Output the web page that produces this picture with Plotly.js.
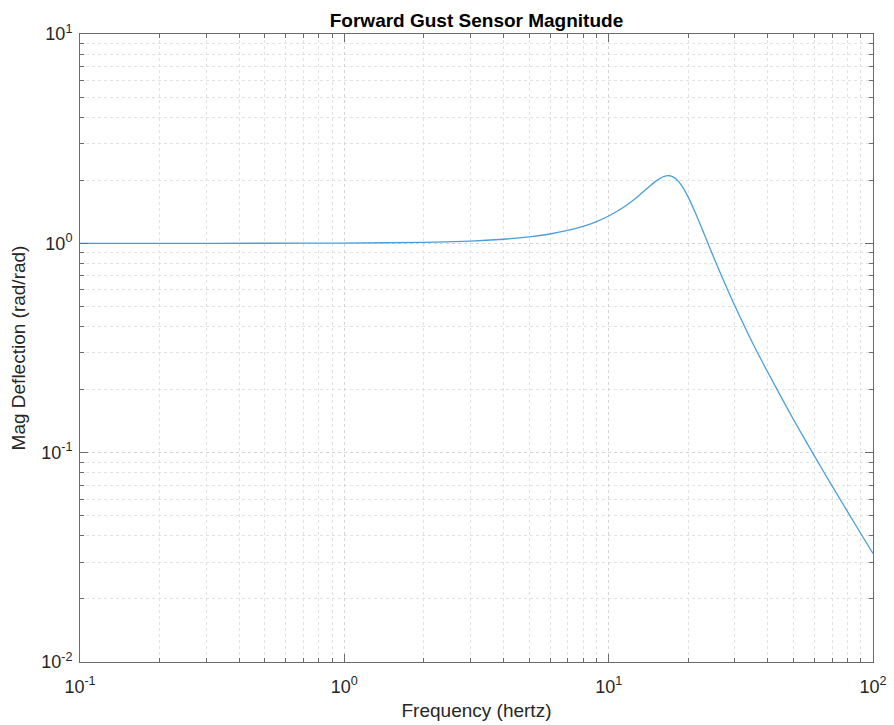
<!DOCTYPE html>
<html>
<head>
<meta charset="utf-8">
<script src="https://cdn.plot.ly/plotly-3.0.1.min.js"></script>
<style>html,body{margin:0;padding:0;background:#fff;}#chart{width:894px;height:725px;}</style>
</head>
<body>
<div id="chart"></div>
<script>
// Frequency (hertz) and magnitude (rad/rad)
var freq = [0.1, 0.2, 0.5, 1, 2, 3, 4, 5, 6, 7, 8, 9, 10, 11, 12, 13, 14, 15, 16, 16.5, 17, 17.5, 18, 19, 20, 21, 22, 23, 24, 25, 27, 30, 35, 40, 50, 60, 70, 80, 90, 100];
var mag  = [1.000, 1.000, 1.001, 1.003, 1.011, 1.025, 1.046, 1.073, 1.108, 1.152, 1.205, 1.271, 1.351, 1.446, 1.560, 1.690, 1.833, 1.971, 2.075, 2.101, 2.103, 2.078, 2.029, 1.868, 1.663, 1.455, 1.267, 1.104, 0.968, 0.854, 0.679, 0.503, 0.335, 0.242, 0.144, 0.0965, 0.0694, 0.0524, 0.0410, 0.0330];

var xTickVals = [0.1, 1, 10, 100];
var xTickText = ['10<sup>-1</sup>', '10<sup>0</sup>', '10<sup>1</sup>', '10<sup>2</sup>'];
var yTickVals = [0.01, 0.1, 1, 10];
var yTickText = ['10<sup>-2</sup>', '10<sup>-1</sup>', '10<sup>0</sup>', '10<sup>1</sup>'];

var titleText = 'Forward Gust Sensor Magnitude';
var xTitle = 'Frequency (hertz)';
var yTitle = 'Mag Deflection (rad/rad)';

var FONT = 'Liberation Sans, Arial, Helvetica, sans-serif';
var AXC = '#6b6b6b';

var trace = {
  x: freq, y: mag, type: 'scatter', mode: 'lines',
  line: {color: '#4a9fdb', width: 1.3, shape: 'spline', smoothing: 0.6},
  hoverinfo: 'x+y'
};

function axisCommon() {
  return {
    type: 'log',
    showline: true, linecolor: AXC, linewidth: 1, mirror: 'ticks',
    ticks: 'inside', ticklen: 8, tickcolor: AXC, tickwidth: 1,
    showgrid: true, gridcolor: '#d4d4d4', griddash: 'dot', gridwidth: 1,
    zeroline: false,
    tickfont: {family: FONT, size: 18, color: '#262626'},
    minor: {tickmode: 'linear', dtick: 'D1', ticks: 'inside', ticklen: 4, tickcolor: AXC,
            showgrid: true, gridcolor: '#e2e2e2', griddash: 'dot', gridwidth: 1},
    automargin: false
  };
}

var xaxis = axisCommon();
xaxis.range = [-1, 2];
xaxis.tickmode = 'array';
xaxis.tickvals = xTickVals;
xaxis.ticktext = xTickText;
xaxis.ticklabelstandoff = 8;
xaxis.title = {text: xTitle, font: {family: FONT, size: 19, color: '#262626'}, standoff: 8};

var yaxis = axisCommon();
yaxis.range = [-2, 1];
yaxis.tickmode = 'array';
yaxis.tickvals = yTickVals;
yaxis.ticktext = yTickText;
yaxis.ticklabelstandoff = 3;
yaxis.title = {text: yTitle, font: {family: FONT, size: 19, color: '#262626'}, standoff: 10};

var layout = {
  width: 894, height: 725,
  margin: {l: 80, r: 21, t: 34, b: 63},
  paper_bgcolor: '#ffffff', plot_bgcolor: '#ffffff',
  showlegend: false,
  title: {text: '<b>' + titleText + '</b>', font: {family: FONT, size: 19, color: '#000000'},
          xref: 'paper', x: 0.5, xanchor: 'center', yref: 'container', y: 1 - 20/725, yanchor: 'middle'},
  xaxis: xaxis, yaxis: yaxis
};

Plotly.newPlot('chart', [trace], layout, {displayModeBar: false, staticPlot: true});
</script>
</body>
</html>
